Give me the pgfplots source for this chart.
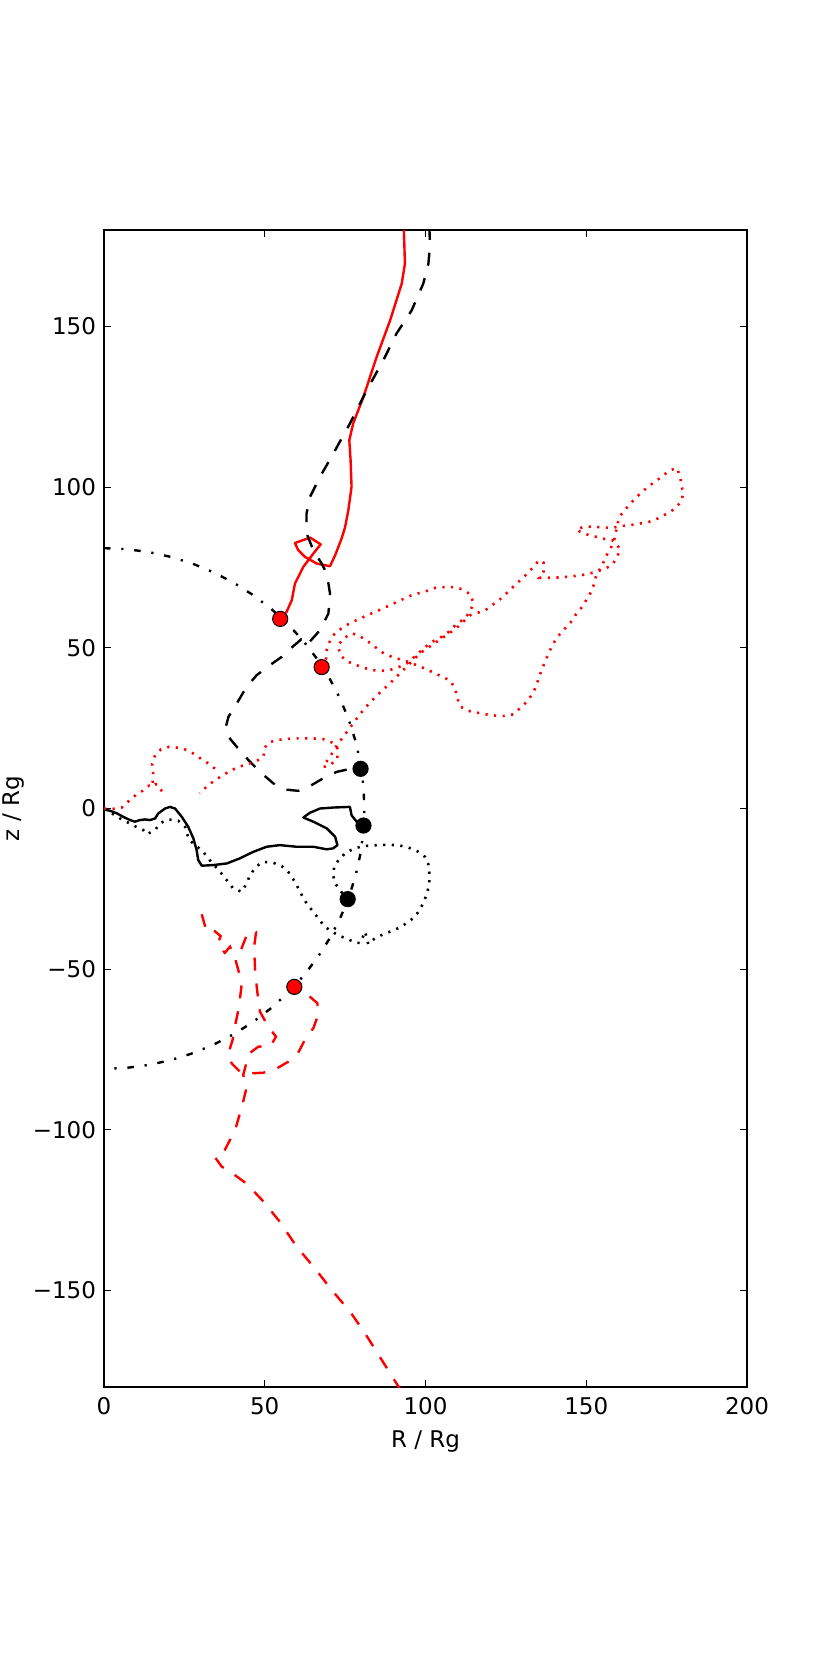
\documentclass[border=0pt]{standalone}
\usepackage{fontspec}
\setmainfont{DejaVu Sans}
\usepackage{pgfplots}
\pgfplotsset{compat=1.18}
\begin{document}
\fontsize{11.5}{13.8}\selectfont
\begin{tikzpicture}
\begin{axis}[
  at={(0,0)}, anchor=south west,
  scale only axis, width=321.5pt, height=578.5pt,
  xmin=0, xmax=200, ymin=-180, ymax=180,
  xtick={0,50,100,150,200}, xticklabels={0,50,100,150,200},
  ytick={-150,-100,-50,0,50,100,150},
  yticklabels={−150,−100,−50,0,50,100,150},
  tick align=inside, tick pos=both, major tick length=3.5pt,
  every tick/.style={black, line width=0.6pt},
  axis line style={line width=0.9pt},
  ticklabel style={font=\fontsize{11.5}{13.8}\selectfont},
  xticklabel style={yshift=-1.2pt},
  label style={font=\fontsize{11.5}{13.8}\selectfont},
  xlabel={R / Rg}, ylabel={z / Rg},
  xlabel style={at={(axis description cs:0.5,-0.0467)}, anchor=center},
  ylabel style={at={(axis description cs:-0.141,0.5)}, anchor=center, inner sep=0pt},
  clip=true,
]
% red solid
\addplot[red, line width=1.2pt, line join=round] coordinates {
(54.8,59.0)(56.8,61.2)(58.4,64.8)(59.4,70.0)(62.0,75.2)(65.1,79.3)(67.4,82.2)(64.1,84.3)(59.4,82.6)(60.4,80.4)(62.5,78.3)(66.2,76.2)(70.3,75.4)(71.9,78.8)(73.9,84.0)(75.0,87.6)(76.0,92.8)(77.0,100.1)(76.7,108.4)(76.3,114.6)(77.5,119.8)(80.7,128.1)(84.8,140.5)(89.0,151.9)(92.6,163.3)(93.6,169.5)(93.3,179.4)(93.2,181)
};
% black dashed
\addplot[black, line width=1.2pt, dash pattern=on 6.5pt off 6.5pt] coordinates {
(101.2,181)(101.4,175.2)(100.9,169.5)(99.3,163.3)(95.7,155.0)(91.0,147.8)(86.9,139.5)(81.7,130.1)(76.5,119.8)(71.3,110.4)(67.2,103.2)(64.1,97.0)(63.0,91.8)(63.0,85.6)(65.1,80.4)(67.7,76.2)(69.3,73.1)(70.3,66.9)(69.8,60.7)(67.2,55.5)(63.0,50.8)(61.3,52.6)(58.4,50.1)(55.3,47.2)(51.6,44.6)(47.5,41.5)(44.4,37.9)(41.3,32.7)(38.7,28.5)(37.9,25.4)(38.7,22.3)(41.3,19.2)(44.9,15.1)(48.5,11.4)(52.7,7.8)(56.3,5.9)(60.4,5.5)(64.1,7.0)(68.2,9.4)(72.4,11.4)(76.0,12.2)(79.8,12.35)
};
% black solid
\addplot[black, line width=1.2pt, line join=round] coordinates {
(80.7,-5.3)(78.6,-4.1)(77.0,-2.1)(76.5,0.5)(71.3,0.3)(67.2,0.0)(64.1,-1.3)(62.0,-2.8)(65.1,-4.1)(69.3,-6.2)(71.9,-8.8)(72.6,-11.4)(71.3,-12.4)(69.3,-12.7)(65.1,-11.9)(59.9,-11.9)(54.7,-11.4)(50.6,-11.9)(46.4,-13.5)(42.3,-15.5)(38.2,-17.1)(34.0,-17.6)(30.4,-17.8)(29.3,-16.0)(28.8,-12.9)(27.8,-9.3)(26.2,-5.7)(24.2,-2.6)(22.1,0.0)(20.5,0.5)(19.0,0.0)(16.9,-1.5)(15.9,-3.1)(14.3,-3.6)(12.8,-3.4)(11.2,-3.6)(9.6,-4.1)(8.1,-3.6)(6.0,-2.6)(4.0,-1.5)(1.9,-0.7)(0.8,-0.5)(0,0)
};
% black dotted
\addplot[black, line width=1.3pt, dash pattern=on 1.1pt off 3.2pt] coordinates {
(75.7,-28.5)(73.8,-25.9)(72.1,-23.6)(71.3,-21.0)(71.6,-18.1)(73.1,-15.8)(75.2,-13.8)(77.9,-12.4)(80.7,-11.7)(83.5,-11.5)(86.3,-11.3)(89.1,-11.3)(91.9,-11.5)(94.6,-12.1)(97.5,-13.3)(99.8,-15.0)(100.9,-17.4)(101.2,-20.2)(101.2,-23.1)(100.6,-25.9)(99.6,-28.8)(98.3,-31.4)(96.7,-33.7)(94.5,-35.4)(92.1,-37.0)(89.5,-38.1)(86.7,-39.2)(84.0,-40.6)(82.2,-42.2)(81.2,-38.3)(79.8,-41.8)(78.4,-41.8)(75.7,-40.6)(73.2,-39.6)(70.8,-38.3)(68.4,-36.5)(66.7,-34.2)(64.8,-31.8)(63.0,-29.5)(61.5,-26.9)(59.9,-23.8)(57.8,-20.2)(55.3,-17.9)(52.7,-16.9)(49.5,-16.6)(47.5,-17.9)(45.4,-20.7)(44.4,-23.3)(42.8,-25.9)(40.2,-24.9)(38.2,-22.3)(36.1,-19.7)(32.4,-15.5)(30.9,-13.5)(28.8,-11.7)(26.5,-9.8)(25.9,-8.0)(25.2,-5.7)(23.1,-3.8)(20.0,-3.4)(17.4,-4.6)(15.9,-6.7)(13.3,-8.0)(12.2,-6.7)(9.6,-5.5)(5.0,-3.1)(0.8,-0.5)(0,0)
};
% red dashed (main)
\addplot[red, line width=1.2pt, dash pattern=on 6.5pt off 6.5pt] coordinates {
(92.3,-181)(86.4,-171.6)(81.2,-163.3)(76.5,-156.5)(70.8,-149.8)(65.6,-143.1)(59.9,-136.3)(54.7,-128.6)(49.6,-122.3)(46.7,-119.2)(43.9,-116.4)(40.2,-113.7)(36.6,-111.4)(34.5,-108.5)(37.3,-106.8)(39.2,-103.1)(41.1,-99.0)(42.3,-94.8)(43.3,-91.2)(44.4,-86.6)(43.3,-82.9)(44.4,-78.8)(45.2,-76.2)(48.0,-74.1)(51.8,-73.9)(53.5,-71.0)(51.1,-67.9)(48.5,-63.2)(48.0,-59.6)(47.5,-55.4)(47.0,-50.3)(46.7,-43.0)(47.3,-38.5)(45.6,-38.0)(44.4,-39.4)(42.8,-43.5)(40.8,-46.8)(41.8,-50.3)(42.8,-54.9)(42.3,-59.1)(41.8,-62.7)(40.7,-67.9)(40.0,-72.0)(38.7,-76.2)(39.7,-79.3)(42.3,-81.9)(45.9,-82.4)(49.6,-82.2)(53.2,-81.2)(57.3,-78.8)(60.4,-76.0)(63.0,-71.0)(65.1,-68.4)(66.4,-64.8)(66.4,-60.6)(62.8,-57.5)(59.2,-55.5)
};
% red dashed (short piece)
\addplot[red, line width=1.2pt, dash pattern=on 6.5pt off 6.5pt] coordinates {
(30.4,-32.9)(31.9,-38.3)(34.0,-37.8)(36.3,-39.7)(35.3,-42.3)(37.6,-44.9)(39.2,-43.0)(40.8,-46.8)
};
% red dotted (main)
\addplot[red, line width=1.3pt, dash pattern=on 1.1pt off 3.2pt] coordinates {
(67.7,44.0)(69.1,46.7)(69.3,49.5)(70.3,52.2)(71.8,54.5)(74.1,56.2)(76.7,57.8)(79.3,58.9)(81.9,60.2)(84.5,61.2)(87.1,62.4)(89.7,63.6)(92.3,64.8)(95.0,66.1)(97.6,66.9)(100.4,67.7)(103.2,68.7)(105.9,68.9)(108.9,68.9)(111.5,68.2)(114.1,66.5)(114.9,63.8)(113.8,61.2)(112.1,59.0)(109.7,57.5)(107.4,55.1)(105.0,53.4)(102.8,52.3)(100.4,50.6)(98.1,48.6)(96.2,46.9)(94.7,45.4)(91.9,44.1)(89.0,43.1)(86.1,42.8)(83.3,43.1)(80.7,43.8)(77.8,44.9)(75.3,45.9)(73.4,47.9)(72.9,50.8)(74.4,52.9)(77.2,54.5)(79.6,53.6)(82.2,51.9)(84.3,50.3)(86.7,48.5)(89.5,47.2)(92.1,46.4)(94.7,45.6)(97.2,44.6)(100.2,43.4)(102.6,42.2)(105.3,41.0)(107.8,39.7)(109.2,37.2)(109.9,34.4)(110.7,31.8)(113.3,30.4)(116.1,29.8)(118.8,29.3)(121.6,28.9)(124.4,28.8)(127.3,29.3)(129.4,31.2)(131.5,33.2)(133.0,35.3)(134.4,37.9)(135.2,40.6)(136.3,43.5)(137.4,46.2)(138.5,48.8)(139.8,51.4)(141.3,53.7)(143.2,55.8)(145.2,58.0)(146.8,60.4)(148.6,62.6)(150.1,65.0)(151.5,67.4)(152.5,70.0)(153.2,73.1)(154.8,75.2)(155.9,78.1)(157.6,80.9)(158.8,84.0)(159.8,88.9)(160.9,91.5)(162.8,93.8)(164.6,95.8)(166.7,97.9)(168.8,99.8)(171.1,101.5)(173.5,103.2)(175.6,105.0)(178.1,106.0)(179.2,103.5)(179.6,100.6)(180.2,97.9)(179.3,95.2)(177.3,93.1)(174.8,91.6)(172.2,90.2)(169.6,89.2)(166.8,88.7)(163.9,88.2)(161.2,87.9)(158.4,87.4)(155.3,87.4)(152.5,87.7)(149.7,87.7)(147.0,87.0)(148.1,86.1)(150.7,85.1)(153.6,84.4)(156.4,83.7)(158.0,83.5)(159.0,82.8)(160.5,80.7)(159.5,78.0)(158.0,75.7)(155.3,74.4)(152.5,73.5)(149.8,72.8)(146.0,72.3)(142.0,71.9)(138.2,71.8)(135.4,71.8)(136.7,73.7)(136.7,76.5)(135.4,77.3)(131.7,73.1)(127.6,69.3)(123.2,65.1)(118.6,61.7)(113.8,60.1)(109.5,56.0)(105.0,52.9)(98.3,48.3)(93.1,43.1)(88.9,38.9)(84.8,35.1)(81.0,31.1)(77.5,26.5)(74.2,22.0)(72.0,19.0)(70.3,16.1)(68.8,14.0)(68.2,12.9)(70.3,13.5)(72.6,15.5)(72.6,18.7)(71.3,20.4)(68.1,21.6)(65.1,21.8)(62.2,21.8)(59.4,21.8)(56.5,21.6)(53.6,21.3)(51.0,20.4)(49.9,18.7)(49.6,16.1)(47.0,14.5)(44.4,13.8)(41.3,12.7)(38.7,11.4)(36.6,10.1)(34.5,8.8)(31.9,6.8)(29.7,4.7)
};
% red dotted (near origin)
\addplot[red, line width=1.3pt, dash pattern=on 1.1pt off 3.2pt] coordinates {
(0,0)(2.4,-0.2)(5.5,0.3)(7.8,2.4)(9.9,4.2)(12.0,5.5)(13.3,6.8)(14.1,7.1)(15.1,6.8)(15.9,7.6)(16.9,7.3)(17.4,6.0)(18.9,4.7)
};
\addplot[red, line width=1.3pt, dash pattern=on 1.1pt off 3.2pt] coordinates {
(15.1,8.0)(15.3,10.9)(15.0,13.8)(15.9,16.6)(17.7,18.4)(20.3,19.2)(23.1,18.9)(25.9,18.2)(28.3,16.8)(30.4,15.3)(32.5,14.0)(34.5,12.4)(35.8,11.0)
};
% black dash-dot circle r = 81
\addplot[black, line width=1.2pt, dash pattern=on 3.25pt off 5.4pt on 1.1pt off 5.4pt] coordinates {
(0,81)(7.06,80.69)(14.07,79.77)(20.96,78.24)(27.70,76.12)(34.23,73.41)(40.50,70.15)(46.46,66.35)(52.07,62.05)(57.28,57.28)(62.05,52.07)(66.35,46.46)(70.15,40.50)(73.41,34.23)(76.12,27.70)(78.24,20.96)(79.77,14.07)(80.69,7.06)(81,0)(80.69,-7.06)(79.77,-14.07)(78.24,-20.96)(76.12,-27.70)(73.41,-34.23)(70.15,-40.50)(66.35,-46.46)(62.05,-52.07)(57.28,-57.28)(52.07,-62.05)(46.46,-66.35)(40.50,-70.15)(34.23,-73.41)(27.70,-76.12)(20.96,-78.24)(14.07,-79.77)(7.06,-80.69)(0,-81)
};
% markers
\addplot[only marks, mark=*, mark size=3.8pt, mark options={fill=red, draw=black, line width=0.5pt}] coordinates {
(54.8,59.0)(67.7,44.0)(59.2,-55.5)
};
\addplot[only marks, mark=*, mark size=3.8pt, mark options={fill=black, draw=black, line width=0.5pt}] coordinates {
(79.8,12.35)(80.7,-5.3)(75.8,-28.2)
};
\end{axis}
\pgfresetboundingbox
\useasboundingbox (-52pt,-137pt) rectangle (363pt,693.5pt);
\end{tikzpicture}
\end{document}
